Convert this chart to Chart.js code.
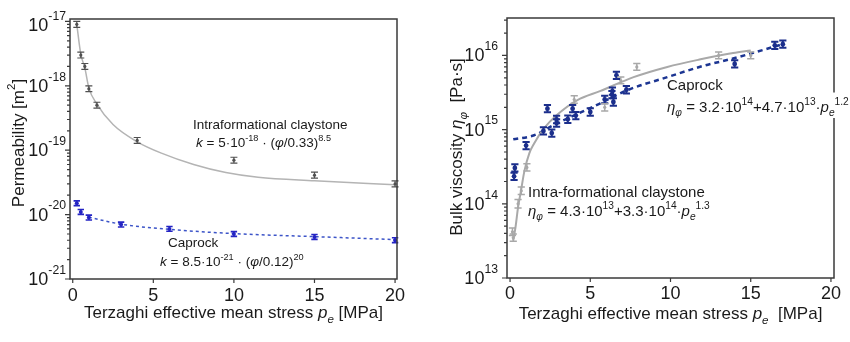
<!DOCTYPE html>
<html lang="en">
<head>
<meta charset="UTF-8">
<title>Permeability and bulk viscosity vs Terzaghi effective stress</title>
<script src="https://cdn.jsdelivr.net/npm/chart.js@4"></script>
<style>
  * { margin: 0; padding: 0; box-sizing: border-box; }
  body { width: 850px; height: 342px; background: #fff; overflow: hidden; position: relative; }
  canvas { position: absolute; top: 0; }
  #left { left: 0; }
  #right { left: 420px; }
</style>
</head>
<body>
<canvas id="left" width="420" height="342"></canvas>
<canvas id="right" width="430" height="342"></canvas>

<script>
// ---- left panel: permeability ----
const stressClay = [0.25, 0.5, 0.75, 1, 1.5, 4, 10, 15, 20];
const permClay = [9e-18, 3e-18, 2e-18, 9e-19, 5e-19, 1.42e-19, 7e-20, 4.1e-20, 3e-20];
const permClayErr = [0.11, 0.11, 0.11, 0.11, 0.11, 0.11, 0.11, 0.11, 0.11];
const stressCap = [0.25, 0.5, 1, 3, 6, 10, 15, 20];
const permCap = [1.5e-20, 1.1e-20, 9e-21, 7e-21, 6e-21, 5e-21, 4.5e-21, 4e-21];
const permCapErr = [0.09, 0.09, 0.09, 0.09, 0.09, 0.09, 0.09, 0.09];
// fitted curves
const fitClayX = [0.25, 0.5, 0.75, 1, 1.5, 2.5, 4, 5.5, 7.5, 9.5, 11.5, 15, 20];
const fitClayY = [9e-18, 3.1e-18, 1.9e-18, 9.3e-19, 5.2e-19, 2.5e-19, 1.35e-19, 9e-20, 6e-20, 4.5e-20, 3.8e-20, 3.35e-20, 2.9e-20];
const fitCapX = [1, 3, 6, 10, 15, 20];
const fitCapY = [9.1e-21, 7.1e-21, 5.9e-21, 5.07e-21, 4.55e-21, 4.09e-21];

// ---- right panel: bulk viscosity ----
const stressViscCap = [0.25, 0.3, 1.0, 2.08, 2.33, 2.6, 2.9, 2.9, 3.6, 3.9, 4.1, 5.0, 5.9, 6.35, 6.38, 6.44, 6.63, 7.25, 14.0, 16.5, 17.0];
const viscCap = [2.35e14, 3.05e14, 6.1e14, 9.6e14, 1.92e15, 9.0e14, 1.23e15, 1.37e15, 1.38e15, 1.92e15, 1.55e15, 1.73e15, 2.55e15, 2.96e15, 3.3e15, 2.36e15, 5.4e15, 3.45e15, 7.7e15, 1.37e16, 1.42e16];
const viscCapErr = [0.12, 0.12, 0.12, 0.12, 0.12, 0.12, 0.12, 0.12, 0.12, 0.12, 0.12, 0.12, 0.12, 0.12, 0.12, 0.12, 0.12, 0.12, 0.12, 0.12, 0.12];
const stressViscClay = [0.15, 0.2, 0.5, 0.7, 1.05, 4.0, 5.9, 6.9, 7.9, 13.0, 15.0];
const viscClay = [4.2e13, 3.5e13, 1.0e14, 1.5e14, 3.1e14, 2.55e15, 2.0e15, 4.6e15, 7.0e15, 1.0e16, 1.0e16];
const viscClayErr = [0.12, 0.12, 0.14, 0.12, 0.12, 0.12, 0.12, 0.11, 0.11, 0.11, 0.11];
const fitViscClayX = [0.2, 0.35, 0.5, 0.67, 0.9, 1.2, 1.5, 2.1, 2.9, 4.2, 5.6, 7.7, 9.8, 11.8, 13.9, 15];
const fitViscClayY = [3.2e13, 5e13, 9e13, 1.45e14, 2.8e14, 4.8e14, 6.5e14, 1.03e15, 1.56e15, 2.5e15, 3.3e15, 5.1e15, 7e15, 8.8e15, 1.08e16, 1.17e16];
const fitViscCapX = [0.2, 1.5, 2.7, 4, 5.6, 7.3, 9.8, 12, 13.9, 17];
const fitViscCapY = [7.4e14, 8.4e14, 1.15e15, 1.56e15, 2.25e15, 3.4e15, 5.1e15, 7.2e15, 9.1e15, 1.42e16];

const xTicks = [0, 5, 10, 15, 20];
const FONT = '"Liberation Sans", Arial, sans-serif';
const INK = '#1a1a1a';

function pts(xs, ys) { return xs.map((x, i) => ({ x: x, y: ys[i] })); }

// text with super/subscripts and italics: parts = [[text, style]]
function richWidth(ctx, parts, size) {
  let w = 0;
  parts.forEach(([t, st = '']) => {
    const small = st.includes('sup') || st.includes('sub');
    ctx.font = (st.startsWith('i') ? 'italic ' : '') + (small ? size * 0.68 : size) + 'px ' + FONT;
    w += ctx.measureText(t).width;
  });
  return w;
}
function drawRich(ctx, x, y, parts, size, align, supRaise) {
  let cx = align === 'center' ? x - richWidth(ctx, parts, size) / 2 : x;
  ctx.textAlign = 'left';
  ctx.textBaseline = 'alphabetic';
  parts.forEach(([t, st = '']) => {
    const small = st.includes('sup') || st.includes('sub');
    ctx.font = (st.startsWith('i') ? 'italic ' : '') + (small ? size * 0.68 : size) + 'px ' + FONT;
    const dy = st.includes('sup') ? -size * (supRaise || 0.45) : st.includes('sub') ? size * 0.28 : 0;
    ctx.fillText(t, cx, y + dy);
    cx += ctx.measureText(t).width;
  });
}

const errorBars = {
  id: 'errorBars',
  afterDatasetsDraw(chart) {
    const ctx = chart.ctx, ys = chart.scales.y;
    ctx.save();
    chart.data.datasets.forEach((ds, i) => {
      if (!ds.errors) return;
      chart.getDatasetMeta(i).data.forEach((el, j) => {
        const v = ds.data[j].y, e = ds.errors[j];
        const top = ys.getPixelForValue(v * (1 + e));
        const bot = ys.getPixelForValue(v / (1 + e));
        const cw = ds.capHalf;
        ctx.strokeStyle = ds.backgroundColor;
        ctx.lineWidth = ds.barWidth;
        ctx.beginPath();
        ctx.moveTo(el.x, top); ctx.lineTo(el.x, bot);
        ctx.moveTo(el.x - cw, top); ctx.lineTo(el.x + cw, top);
        ctx.moveTo(el.x - cw, bot); ctx.lineTo(el.x + cw, bot);
        ctx.stroke();
      });
    });
    ctx.restore();
  }
};

const panel = {
  id: 'panel',
  afterDraw(chart, args, o) {
    const { ctx, chartArea: a } = chart;
    const xs = chart.scales.x, ys = chart.scales.y;
    ctx.save();
    ctx.strokeStyle = '#3a3a3a';
    ctx.lineWidth = 1.5;
    ctx.strokeRect(a.left, a.top, a.right - a.left, a.bottom - a.top);

    ctx.lineWidth = 1.2;
    ctx.beginPath();
    xTicks.forEach(v => {
      const px = xs.getPixelForValue(v);
      ctx.moveTo(px, a.bottom); ctx.lineTo(px, a.bottom + 4);
    });
    for (let e = o.decMin; e <= o.decMax; e++) {
      for (let m = 1; m < 10; m++) {
        const v = m * Math.pow(10, e);
        if (v < ys.min * 0.999 || v > ys.max) continue;
        const py = ys.getPixelForValue(v);
        ctx.moveTo(a.left - (m === 1 ? 5 : 3), py); ctx.lineTo(a.left, py);
      }
    }
    ctx.stroke();

    ctx.fillStyle = INK;
    ctx.font = '18px ' + FONT;
    ctx.textAlign = 'center';
    ctx.textBaseline = 'alphabetic';
    xTicks.forEach(v => ctx.fillText(String(v), xs.getPixelForValue(v), a.bottom + o.xTickDy));

    for (let e = o.decMin; e <= o.decMax; e++) {
      const py = ys.getPixelForValue(Math.pow(10, e)) + 6 + (e === o.decTop ? o.topShift : 0);
      const parts = [['10'], [String(e), 'sup']];
      const w = richWidth(ctx, parts, 18);
      drawRich(ctx, o.labelRight - w, py, parts, 18, 'left', 0.62);
    }

    drawRich(ctx, (a.left + a.right) / 2, o.xTitleY, o.xTitle, 17, 'center', 0.5);

    ctx.save();
    ctx.translate(o.yTitleX, o.yTitleY);
    ctx.rotate(-Math.PI / 2);
    drawRich(ctx, 0, 0, o.yTitle, 17, 'center', 0.55);
    ctx.restore();

    o.notes.forEach(n => {
      if (n.bg) {
        // text box covers the frame where the label runs over it
        ctx.fillStyle = '#fff';
        ctx.fillRect(n.x - 2, n.y - n.size * 1.3, richWidth(ctx, n.parts, n.size) + 6, n.size * 1.7);
        ctx.fillStyle = INK;
      }
      drawRich(ctx, n.x, n.y, n.parts, n.size, 'left', n.raise);
    });
    ctx.restore();
  }
};

function makeChart(id, datasets, xr, yr, pad, panelOpts) {
  return new Chart(document.getElementById(id), {
    type: 'scatter',
    data: { datasets: datasets },
    options: {
      responsive: false,
      animation: false,
      devicePixelRatio: 1,
      layout: { padding: pad },
      plugins: { legend: { display: false }, tooltip: { enabled: false }, panel: panelOpts },
      scales: {
        x: { type: 'linear', min: xr[0], max: xr[1], display: false },
        y: { type: 'logarithmic', min: yr[0], max: yr[1], display: false }
      }
    },
    plugins: [errorBars, panel]
  });
}

const dot = (data, errors, color, r, capHalf, barWidth) => ({
  data: data, errors: errors, backgroundColor: color, borderWidth: 0,
  pointRadius: r, capHalf: capHalf, barWidth: barWidth, showLine: false, order: 0
});
const fit = (data, color, width, dash) => ({
  data: data, borderColor: color, borderWidth: width, borderDash: dash,
  pointRadius: 0, showLine: true, cubicInterpolationMode: 'monotone', order: 1
});

const xTitleParts = sp => [['Terzaghi effective mean stress '], ['p', 'i'], ['e', 'isub'], [sp + '[MPa]']];

makeChart('left', [
  dot(pts(stressClay, permClay), permClayErr, '#505050', 1.6, 3.5, 1.2),
  dot(pts(stressCap, permCap), permCapErr, '#2424c4', 2, 3.2, 1.6),
  fit(pts(fitClayX, fitClayY), '#b4b4b4', 1.5, []),
  fit(pts(fitCapX, fitCapY), '#3c54c8', 1.5, [3, 3])
], [-0.17, 20.12], [1e-21, 1.09e-17], { left: 70, top: 19, right: 23, bottom: 63 }, {
  decMin: -21, decMax: -17, decTop: -17, topShift: 4, labelRight: 66, xTickDy: 22,
  xTitle: xTitleParts(' '), xTitleY: 318,
  yTitle: [['Permeability [m'], ['2', 'sup'], [']']], yTitleX: 24, yTitleY: 143,
  notes: [
    { x: 193, y: 129, size: 13.5, parts: [['Intraformational claystone']] },
    { x: 196, y: 147, size: 13.5, parts: [['k', 'i'], [' = 5·10'], ['-18', 'sup'], [' · ('], ['φ', 'i'], ['/0.33)'], ['8.5', 'sup']] },
    { x: 168, y: 247, size: 13.5, parts: [['Caprock']] },
    { x: 160, y: 266, size: 13.5, parts: [['k', 'i'], [' = 8.5·10'], ['-21', 'sup'], [' · ('], ['φ', 'i'], ['/0.12)'], ['20', 'sup']] }
  ]
});

makeChart('right', [
  dot(pts(stressViscCap, viscCap), viscCapErr, '#1c2f8c', 2.4, 3.6, 2),
  dot(pts(stressViscClay, viscClay), viscClayErr, '#a8a8a8', 1.6, 3.6, 1.5),
  fit(pts(fitViscClayX, fitViscClayY), '#a9a9a9', 2, []),
  fit(pts(fitViscCapX, fitViscCapY), '#1c3592', 2.5, [5, 4])
], [-0.19, 20.19], [1e13, 3.2e16], { left: 87, top: 18, right: 16, bottom: 64 }, {
  decMin: 13, decMax: 16, decTop: 99, topShift: 0, labelRight: 78, xTickDy: 21,
  xTitle: xTitleParts('  '), xTitleY: 319,
  yTitle: [['Bulk viscosity '], ['η', 'i'], ['φ', 'isub'], ['  [Pa·s]']], yTitleX: 42, yTitleY: 147,
  notes: [
    { x: 247, y: 90, size: 15, parts: [['Caprock']] },
    { x: 247, y: 112, size: 15, bg: true, parts: [['η', 'i'], ['φ', 'isub'], [' = 3.2·10'], ['14', 'sup'], ['+4.7·10'], ['13', 'sup'], ['·'], ['p', 'i'], ['e', 'isub'], ['1.2', 'sup']] },
    { x: 108, y: 197, size: 15, parts: [['Intra-formational claystone']] },
    { x: 108, y: 216, size: 15, parts: [['η', 'i'], ['φ', 'isub'], [' = 4.3·10'], ['13', 'sup'], ['+3.3·10'], ['14', 'sup'], ['·'], ['p', 'i'], ['e', 'isub'], ['1.3', 'sup']] }
  ]
});
</script>
</body>
</html>
